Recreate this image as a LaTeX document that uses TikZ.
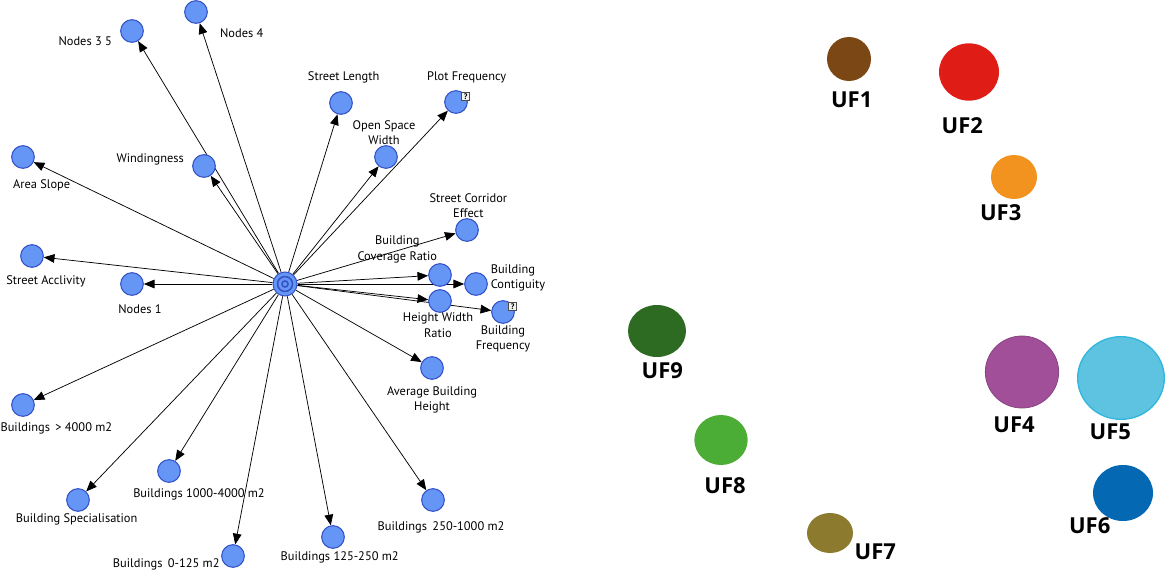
\documentclass[tikz,border=0pt]{standalone}
\usepackage{fontspec}
\setmainfont{PT Sans}
\newfontfamily\uffont{Open Sans}
\usetikzlibrary{shapes.geometric, arrows.meta, positioning, backgrounds}
\definecolor{nodeblue}{RGB}{102,150,245}
\definecolor{nodeedge}{RGB}{52,84,200}
\definecolor{ufbrown}{RGB}{123,71,20}
\definecolor{ufred}{RGB}{224,28,23}
\definecolor{uforange}{RGB}{242,147,31}
\definecolor{ufpurple}{RGB}{161,79,152}
\definecolor{ufcyan}{RGB}{94,194,225}
\definecolor{ufcyanedge}{RGB}{49,183,220}
\definecolor{ufblue}{RGB}{5,104,178}
\definecolor{ufolive}{RGB}{140,123,46}
\definecolor{uflime}{RGB}{75,173,53}
\definecolor{ufgreen}{RGB}{46,107,34}
\tikzstyle{var} = [circle, draw=nodeedge, fill=nodeblue, line width=0.8pt, minimum size=17pt, inner sep=0pt]
\tikzstyle{hubnode} = [circle, draw=nodeedge, fill=nodeblue, line width=0.8pt, minimum size=18pt, inner sep=0pt]
\tikzstyle{lbl} = [font=\fontsize{9.3}{11.5}\selectfont, inner sep=1pt, align=center]
\tikzstyle{qbox} = [rectangle, draw=gray!60!black, fill=gray!10, line width=0.4pt, minimum size=6pt, inner sep=0pt, font=\bfseries\fontsize{6}{6}\selectfont]
\tikzstyle{arrow} = [line width=0.55pt, -{Triangle[length=8pt, width=6.5pt]}]
\tikzstyle{uf} = [ellipse, inner sep=0pt]
\tikzstyle{uflabel} = [font=\uffont\bfseries\fontsize{16.5}{18}\selectfont, inner sep=1pt]

\begin{document}
\begin{tikzpicture}[x=0.75pt, y=-0.75pt]
\useasboundingbox (0,0) rectangle (1165,578);

% Hub
\node (hub) [hubnode] at (285,284) {};
\draw [nodeedge, line width=1.2pt] (hub) circle[radius=5.6pt] circle[radius=2.3pt];

% Variables, top
\node (n35) [var] at (132,31) {};
\node (n4) [var] at (196,12) {};
\node (nwin) [var] at (204,166) {};
\node (nas) [var] at (23,157) {};
\node (nacc) [var] at (32,256) {};
\node (nn1) [var] at (132,284) {};
\node (nsl) [var] at (341,103) {};
\node (npf) [var] at (456,102) {};
\node (nosw) [var] at (386,157) {};
\node (nsce) [var] at (467,230) {};

% Variables, right of hub
\node (nbcr) [var] at (440,275) {};
\node (nbc) [var] at (476,284) {};
\node (nhwr) [var] at (440,301) {};
\node (nbf) [var] at (503,312) {};
\node (nabh) [var] at (432,368) {};

% Variables, bottom
\node (nb4000) [var] at (23,405) {};
\node (nbs) [var] at (78,500) {};
\node (nb1000) [var] at (169,471) {};
\node (nb0) [var] at (233,556) {};
\node (nb125) [var] at (333,537) {};
\node (nb250) [var] at (433,500) {};

% Unknown markers
\node (qpf) [qbox, xshift=1pt, yshift=-2pt] at (npf.north east) {?};
\node (qbf) [qbox, xshift=1pt, yshift=-2pt] at (nbf.north east) {?};

% Labels
\node (tn35) [lbl, left=5pt of n35, yshift=-7.5pt] {Nodes 3 5};
\node (tn4) [lbl, right=8pt of n4, yshift=-16pt] {Nodes 4};
\node (twin) [lbl, left=5pt of nwin, yshift=5pt] {Windingness};
\node (tas) [lbl, below=7pt of nas, xshift=14pt] {Area Slope};
\node (tacc) [lbl, below=4.5pt of nacc, xshift=10.5pt] {Street Acclivity};
\node (tn1) [lbl, below=5.5pt of nn1, xshift=6pt] {Nodes 1};
\node (tsl) [lbl, above=4.5pt of nsl, xshift=2pt] {Street Length};
\node (tpf) [lbl, above=4pt of npf, xshift=8pt] {Plot Frequency};
\node (tosw) [lbl, above=-1pt of nosw, xshift=-1.5pt] {Open Space\\Width};
\node (tsce) [lbl, above=-1pt of nsce, xshift=1pt] {Street Corridor\\Effect};
\node (tbcr) [lbl, above=-1pt of nbcr, xshift=-32pt] {Building\\Coverage Ratio};
\node (tbc) [lbl, right=1pt of nbc, yshift=4.5pt, align=left] {Building\\Contiguity};
\node (thwr) [lbl, below=-1pt of nhwr, xshift=-1.5pt] {Height Width\\Ratio};
\node (tbf) [lbl, below=0pt of nbf] {Building\\Frequency};
\node (tabh) [lbl, below=4pt of nabh] {Average Building\\Height};
\node (tb4000) [lbl, below=3pt of nb4000, xshift=25pt] {Buildings \,> 4000 m2};
\node (tbs) [lbl, below=0pt of nbs, xshift=-1pt] {Building Specialisation};
\node (tb1000) [lbl, below=3pt of nb1000, xshift=22.5pt] {Buildings 1000-4000 m2};
\node (tb0) [lbl, left=0pt of nb0, yshift=-6pt] {Buildings \,0-125 m2};
\node (tb125) [lbl, below=1pt of nb125, xshift=5pt] {Buildings 125-250 m2};
\node (tb250) [lbl, below=6pt of nb250, xshift=6pt] {Buildings \,250-1000 m2};

% Arrows
\begin{scope}[on background layer]
\foreach \n in {n35, n4, nwin, nas, nacc, nn1, nsl, npf, nosw, nsce, nbcr, nbc, nhwr, nbf, nabh, nb4000, nbs, nb1000, nb0, nb125, nb250}
  \draw [arrow] (hub) -- (\n);
\end{scope}

% Urban forms
\node (uf1) [uf, fill=ufbrown, minimum width=33pt, minimum height=33pt] at (849,59) {};
\node (uf2) [uf, fill=ufred, minimum width=45pt, minimum height=43pt] at (969,72) {};
\node (uf3) [uf, fill=uforange, minimum width=34.5pt, minimum height=33pt] at (1014,177) {};
\node (uf4) [uf, fill=ufpurple, draw=ufpurple!85!black, line width=0.6pt, minimum width=55pt, minimum height=54pt] at (1022,372) {};
\node (uf5) [uf, fill=ufcyan, draw=ufcyanedge, line width=1pt, minimum width=65pt, minimum height=62pt] at (1121,378) {};
\node (uf6) [uf, fill=ufblue, minimum width=45pt, minimum height=42pt] at (1123,493) {};
\node (uf7) [uf, fill=ufolive, minimum width=34.5pt, minimum height=30pt] at (830,533) {};
\node (uf8) [uf, fill=uflime, minimum width=40pt, minimum height=37.5pt] at (721,440) {};
\node (uf9) [uf, fill=ufgreen, minimum width=43.5pt, minimum height=39pt] at (657,331) {};

\node (tuf1) [uflabel, below=7pt of uf1, xshift=2pt] {UF1};
\node (tuf2) [uflabel, below=11pt of uf2, xshift=-5pt] {UF2};
\node (tuf3) [uflabel, below=3pt of uf3, xshift=-10pt] {UF3};
\node (tuf4) [uflabel, below=5pt of uf4, xshift=-6pt] {UF4};
\node (tuf5) [uflabel, below=2pt of uf5, xshift=-8pt] {UF5};
\node (tuf6) [uflabel, below=-4pt of uf6, xshift=-25pt] {UF6};
\node (tuf7) [uflabel, below=-8pt of uf7, xshift=34pt] {UF7};
\node (tuf8) [uflabel, below=8pt of uf8, xshift=3pt] {UF8};
\node (tuf9) [uflabel, below=3pt of uf9, xshift=4pt] {UF9};

\end{tikzpicture}
\end{document}
